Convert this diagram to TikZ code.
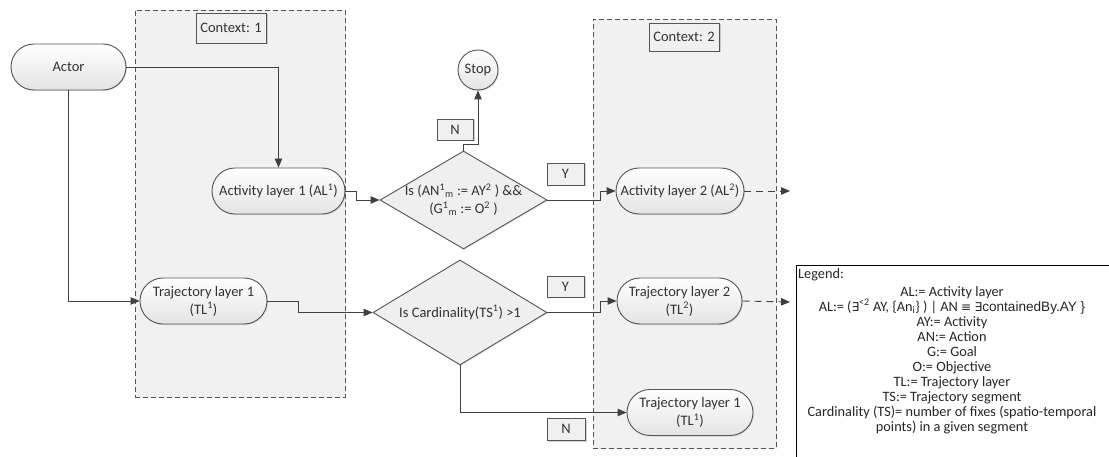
\documentclass[tikz,border=0pt]{standalone}
\usepackage{fontspec}
\setmainfont{Carlito}
\newfontfamily\symfont{DejaVu Sans}[Scale=0.85]
\newfontfamily\arialfont{Liberation Sans}[Scale=0.95]
\usetikzlibrary{arrows.meta,shapes.geometric,shadows,calc}

\definecolor{ink}{HTML}{404040}
\definecolor{word}{HTML}{333333}
\definecolor{rim}{HTML}{555555}
\definecolor{ctxfill}{HTML}{F1F1F1}
\definecolor{nodelow}{HTML}{E4E4E4}
\definecolor{tagfill}{HTML}{F0F0F0}
\definecolor{decfill}{HTML}{EFEFEF}

\tikzset{
  ctxbox/.style={draw=rim, fill=ctxfill, dash pattern=on 5pt off 3pt, line width=0.9pt,
    inner sep=0pt, drop shadow={shadow xshift=1pt, shadow yshift=-1pt, opacity=0.15}},
  layer/.style={draw=rim, line width=0.9pt, rounded corners=23pt, top color=white,
    bottom color=nodelow, minimum height=46pt, inner sep=1pt, align=center,
    text=word, font=\fontsize{14.5}{18}\selectfont,
    drop shadow={shadow xshift=1pt, shadow yshift=-1pt, opacity=0.25}},
  tag/.style={draw=rim, line width=0.9pt, fill=tagfill, inner sep=0pt, text=word,
    font=\fontsize{14.5}{18}\selectfont,
    drop shadow={shadow xshift=1.5pt, shadow yshift=-1.5pt, opacity=0.35}},
  decision/.style={diamond, draw=rim, line width=0.9pt, fill=decfill, inner sep=0pt,
    drop shadow={shadow xshift=1pt, shadow yshift=-1pt, opacity=0.2}},
  dectext/.style={align=center, text=word, inner sep=0pt, font=\fontsize{14.5}{18}\selectfont},
  flow/.style={draw=ink, line width=0.9pt, -{Triangle[length=9pt,width=7.5pt]}},
  flowon/.style={flow, dash pattern=on 7pt off 5pt},
  legendtext/.style={text=black!85, inner sep=0pt, font=\fontsize{14.3}{15}\selectfont}
}

\begin{document}
\begin{tikzpicture}[x=1pt,y=-1pt]
\useasboundingbox (0,0) rectangle (1109,457);
\fill[white] (0,0) rectangle (1109,457);

% context containers
\node[ctxbox, minimum width=210pt, minimum height=387pt] (ctx1) at (240,203.5) {};
\node[ctxbox, minimum width=183pt, minimum height=429pt] (ctx2) at (684.5,233.5) {};
\node[tag, minimum width=70pt, minimum height=30pt] (ctx1tag) at (231,28) {Context: 1};
\node[tag, minimum width=70pt, minimum height=28pt] (ctx2tag) at (684,37) {Context: 2};

% layers
\node[layer, minimum width=115pt] (actor) at (68.5,67) {Actor};
\node[layer, minimum width=133pt] (al1) at (278.5,191) {Activity layer 1 (AL\textsuperscript{1})};
\node[layer, minimum width=127pt] (tl1) at (203.5,301) {Trajectory layer 1\\(TL\textsuperscript{1})};
\node[layer, minimum width=128pt] (al2) at (680,191) {Activity layer 2 (AL\textsuperscript{2})};
\node[layer, minimum width=125pt] (tl2) at (679.5,301) {Trajectory layer 2\\(TL\textsuperscript{2})};
\node[layer, minimum width=126pt] (tl1b) at (690,412.5) {Trajectory layer 1\\(TL\textsuperscript{1})};
\node[layer, circle, minimum size=40pt, inner sep=0pt] (stop) at (478,70) {Stop};

% decisions
\node[decision, minimum width=167pt, minimum height=98pt] (d1) at (463.5,200) {};
\node[dectext] (d1text) at (d1.center) {Is (AN\textsuperscript{1}\textsubscript{m} := AY\textsuperscript{2} ) \&\&\\(G\textsuperscript{1}\textsubscript{m} := O\textsuperscript{2} )};
\node[decision, minimum width=174pt, minimum height=105pt] (d2) at (460,312.5) {};
\node[dectext] (d2text) at (d2.center) {Is Cardinality(TS\textsuperscript{1}) >1};

% branch tags
\node[tag, minimum width=36pt, minimum height=21pt] (nA) at (455,129.5) {N};
\node[tag, minimum width=37pt, minimum height=22pt] (yA) at (565.5,174) {Y};
\node[tag, minimum width=37pt, minimum height=21pt] (yB) at (565.5,286.5) {Y};
\node[tag, minimum width=38pt, minimum height=22pt] (nB) at (566,429) {N};

% loose ends
\coordinate (out1) at (790,191);
\coordinate (out2) at (790,302);
\coordinate (jog1) at ($(al2.west)+(-15,0)$);
\coordinate (jog2) at ($(tl2.west)+(-16,0)$);

% connectors
\draw[flow] (actor.east) -| (al1.north);
\draw[flow] (actor.south) |- (tl1.west);
\draw[flow] (al1.east) -- ++(11,0) |- (d1.west);
\draw[flow] (tl1.east) -- ++(31,0) |- (d2.west);
\draw[flow] (d1.north) -- ++(0,-6) -| (stop.south);
\draw[flow] (d1.east) -| (jog1) -- (al2.west);
\draw[flow] (d2.east) -| (jog2) -- (tl2.west);
\draw[flow] (d2.south) |- (tl1b.west);
\draw[flowon] (al2.east) -- (out1);
\draw[flowon] (tl2.east) -- (out2);

% legend
\node[draw=black, line width=0.9pt, fill=white, minimum width=330pt, minimum height=210pt,
  inner sep=0pt] (legend) at (961,370) {};
\node[legendtext, anchor=west] (legtitle) at (798,275) {Legend:};
\node[legendtext, align=center, anchor=north] (legbody) at (952,286) {%
AL:= Activity layer\\
AL:= ({\symfont ∃}\textsuperscript{<2} AY, \{An\textsubscript{i}\} ) | AN {\symfont ≡} {\symfont ∃}{\arialfont containedBy.AY \}}\\
AY:= Activity\\
AN:= Action\\
G:= Goal\\
O:= Objective\\
TL:= Trajectory layer\\
TS:= Trajectory segment\\
Cardinality (TS)= number of fixes (spatio-temporal\\
points) in a given segment};
\end{tikzpicture}
\end{document}
